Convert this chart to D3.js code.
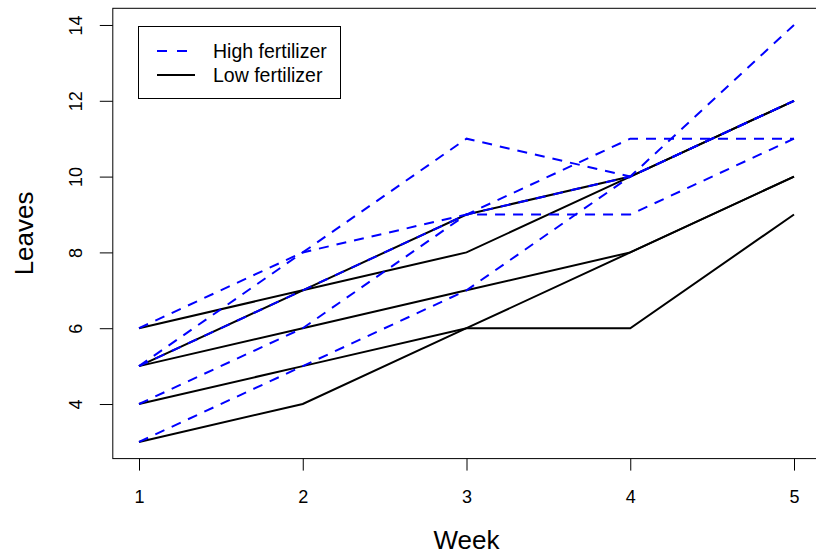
<!DOCTYPE html>
<html>
<head>
<meta charset="utf-8">
<script src="https://cdn.jsdelivr.net/npm/d3@7"></script>
<style>
  html, body { margin: 0; padding: 0; background: #fff; }
  svg text { font-family: "Liberation Sans", Arial, sans-serif; fill: #000; }
</style>
</head>
<body>
<div id="chart"></div>
<script>
// data: leaves per plant, weeks 1..5
const weeks = [1, 2, 3, 4, 5];
const highFert = [
    [6, 8, 11, 10, 12],
    [5, 8, 9, 9, 11],
    [5, 7, 9, 10, 12],
    [4, 6, 9, 11, 11],
    [3, 5, 7, 10, 14]
];
const lowFert = [
    [6, 7, 8, 10, 12],
    [5, 7, 9, 10, 12],
    [5, 6, 7, 8, 10],
    [4, 5, 6, 6, 9],
    [3, 4, 6, 8, 10]
];
const xTicks = [1, 2, 3, 4, 5];
const yTicks = [4, 6, 8, 10, 12, 14];
const legendLabels = ["High fertilizer", "Low fertilizer"];

const width = 816, height = 554;
const blue = "#0000ff";

const svg = d3.select("#chart")
    .append("svg")
    .attr("width", width)
    .attr("height", height);

// R style: 4% padding on each side of the data range
const x = d3.scaleLinear().domain([0.84, 5.16]).range([112.8, 820.2]);
const y = d3.scaleLinear().domain([2.56, 14.44]).range([458.6, 8.3]);

const line = d3.line()
    .x((d, i) => x(weeks[i]))
    .y(d => y(d));

// low fertilizer first, blue dashes sit on top where they overlap
svg.append("g")
    .selectAll("path")
    .data(lowFert)
    .join("path")
    .attr("d", line)
    .attr("fill", "none")
    .attr("stroke", "#000")
    .attr("stroke-width", 2);

svg.append("g")
    .selectAll("path")
    .data(highFert)
    .join("path")
    .attr("d", line)
    .attr("fill", "none")
    .attr("stroke", blue)
    .attr("stroke-width", 2)
    .attr("stroke-dasharray", "10,8");

// box
svg.append("rect")
    .attr("x", x.range()[0])
    .attr("y", y.range()[1])
    .attr("width", x.range()[1] - x.range()[0])
    .attr("height", y.range()[0] - y.range()[1])
    .attr("fill", "none")
    .attr("stroke", "#000")
    .attr("stroke-width", 1);

// x axis
const gx = svg.append("g")
    .attr("transform", `translate(0,${y.range()[0]})`)
    .call(d3.axisBottom(x).tickValues(xTicks).tickSize(12).tickFormat(d3.format("d")));
gx.select(".domain").remove();
gx.selectAll("line").attr("stroke", "#000");
gx.selectAll("text")
    .attr("y", 44.5)
    .attr("dy", 0)
    .attr("font-size", "18px")
    .attr("font-family", null);

// y axis, labels turned like R's las=0
const gy = svg.append("g")
    .attr("transform", `translate(${x.range()[0]},0)`)
    .call(d3.axisLeft(y).tickValues(yTicks).tickSize(13).tickFormat(d3.format("d")));
gy.select(".domain").remove();
gy.selectAll("line").attr("stroke", "#000");
gy.selectAll("text")
    .attr("transform", "rotate(-90)")
    .attr("x", 0)
    .attr("y", -31)
    .attr("dy", 0)
    .attr("text-anchor", "middle")
    .attr("font-size", "18px")
    .attr("font-family", null);

// axis titles
svg.append("text")
    .attr("x", (x.range()[0] + x.range()[1]) / 2)
    .attr("y", 549)
    .attr("text-anchor", "middle")
    .attr("font-size", "26px")
    .text("Week");

svg.append("text")
    .attr("transform", `translate(33,${(y.range()[0] + y.range()[1]) / 2}) rotate(-90)`)
    .attr("text-anchor", "middle")
    .attr("font-size", "26px")
    .text("Leaves");

// legend
const legend = svg.append("g");
legend.append("rect")
    .attr("x", 138.5)
    .attr("y", 26.5)
    .attr("width", 202)
    .attr("height", 72)
    .attr("fill", "#fff")
    .attr("stroke", "#000")
    .attr("stroke-width", 1);

const legendRows = legend.selectAll("g.row")
    .data(legendLabels)
    .join("g")
    .attr("class", "row")
    .attr("transform", (d, i) => `translate(0,${51 + i * 24})`);

legendRows.append("line")
    .attr("x1", 157)
    .attr("x2", (d, i) => i === 0 ? 187 : 195)
    .attr("stroke", (d, i) => i === 0 ? blue : "#000")
    .attr("stroke-width", 2)
    .attr("stroke-dasharray", (d, i) => i === 0 ? "10,10" : null);

legendRows.append("text")
    .attr("x", 213)
    .attr("dy", "0.35em")
    .attr("font-size", "19.5px")
    .text(d => d);
</script>
</body>
</html>
